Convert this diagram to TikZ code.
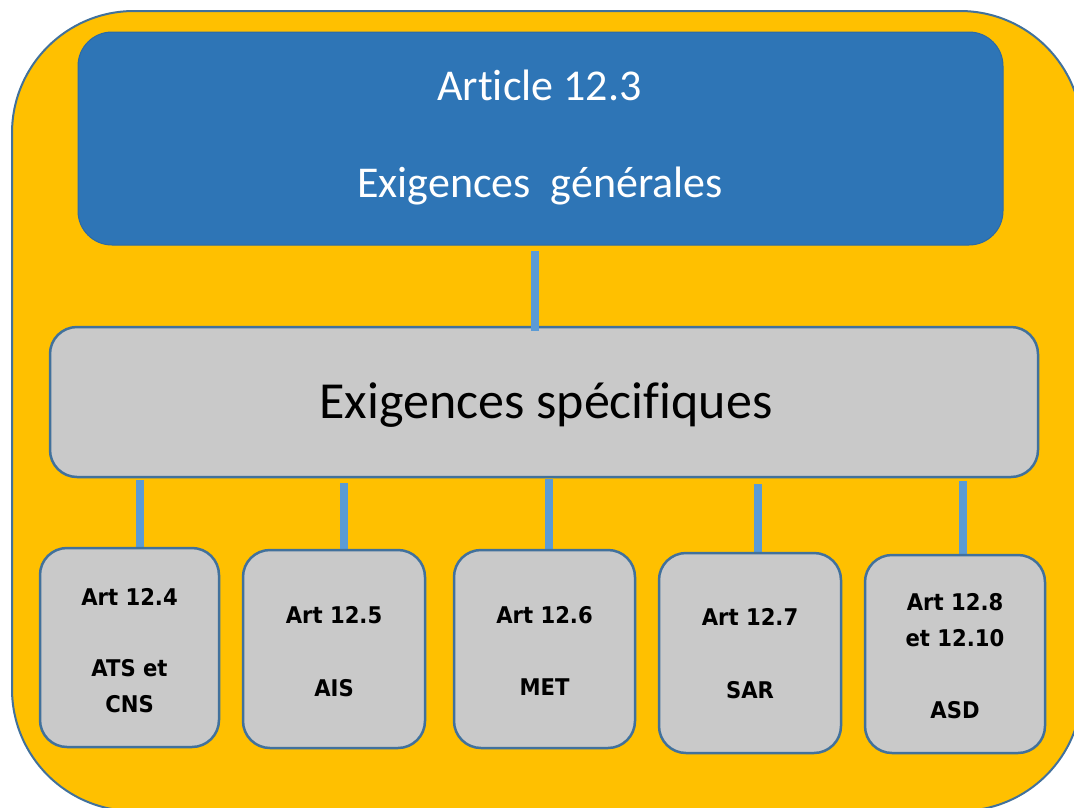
\documentclass[tikz,border=0pt]{standalone}
\usepackage{fontspec}
\setmainfont[Ligatures=NoCommon]{Carlito}
\newfontfamily\smallfont[FakeStretch=0.92]{DejaVu Sans}
\definecolor{gold}{HTML}{FFC000}
\definecolor{outerline}{HTML}{41719C}
\definecolor{bluefill}{HTML}{2E75B6}
\definecolor{blueline}{HTML}{2C6AA5}
\definecolor{boxgray}{HTML}{C9C9C9}
\definecolor{boxline}{HTML}{41719C}
\definecolor{connblue}{HTML}{5B9BD5}
\begin{document}
\begin{tikzpicture}[x=1pt,y=-1pt,
  graybox/.style={draw=boxline, line width=2.5pt, fill=boxgray, rounded corners=27pt, inner sep=0pt},
  bluebox/.style={draw=blueline, line width=1pt, fill=bluefill, rounded corners=34pt, inner sep=0pt},
  framebox/.style={draw=outerline, line width=2pt, fill=gold, rounded corners=122pt, inner sep=0pt},
  conn/.style={draw=connblue, line width=8pt},
  titletxt/.style={font=\fontsize{44}{50}\selectfont, text=white, anchor=base, inner sep=0pt},
  midtxt/.style={font=\fontsize{52}{58}\selectfont, text=black, anchor=base, inner sep=0pt},
  smalltxt/.style={font=\smallfont\bfseries\fontsize{23}{28}\selectfont, text=black, anchor=base, inner sep=0pt}]
\useasboundingbox (0,0) rectangle (1074,807);
\fill[white] (0,0) rectangle (1074,807);
% outer frame
\node[framebox, minimum width=1070pt, minimum height=800pt] (frame) at (547,411) {};
% boxes
\node[bluebox, minimum width=925pt, minimum height=213pt] (blue) at (540.5,138.5) {};
\node[graybox, minimum width=988pt, minimum height=150pt] (gray) at (544,402) {};
% bottom connectors (behind small boxes)
\coordinate (c1) at (140,0);
\coordinate (c2) at (344,0);
\coordinate (c3) at (549,0);
\coordinate (c4) at (758,0);
\coordinate (c5) at (963,0);
\draw[conn] ([yshift=-2pt]c1 |- gray.south) -- ([yshift=-75pt]c1 |- gray.south);
\draw[conn] ([yshift=-5pt]c2 |- gray.south) -- ([yshift=-78pt]c2 |- gray.south);
\draw[conn] ([yshift=-1pt]c3 |- gray.south) -- ([yshift=-75pt]c3 |- gray.south);
\draw[conn] ([yshift=-6pt]c4 |- gray.south) -- ([yshift=-80pt]c4 |- gray.south);
\draw[conn] ([yshift=-3pt]c5 |- gray.south) -- ([yshift=-80pt]c5 |- gray.south);
% small boxes
\node[graybox, minimum width=179pt, minimum height=199pt] (b1) at (129.5,647.5) {};
\node[graybox, minimum width=182pt, minimum height=198pt] (b2) at (334,649) {};
\node[graybox, minimum width=181pt, minimum height=198pt] (b3) at (544.5,649) {};
\node[graybox, minimum width=182pt, minimum height=200pt] (b4) at (750,653) {};
\node[graybox, minimum width=180pt, minimum height=198pt] (b5) at (955,654) {};
% top connector
\coordinate (c0) at (535,0);
\draw[conn] ([yshift=-5pt]c0 |- blue.south) -- ([yshift=-5pt]c0 |- gray.north);
% texts
\node[titletxt] (t0a) at (539.5,100) {Article 12.3};
\node[titletxt] (t0b) at (540,197) {Exigences~~générales};
\node[midtxt] (tm) at (546,418) {Exigences spécifiques};
\node[smalltxt] (t1a) at (129.5,605) {Art 12.4};
\node[smalltxt] (t1b) at (129.5,676) {ATS et};
\node[smalltxt] (t1c) at (129.5,712) {CNS};
\node[smalltxt] (t2a) at (334,623) {Art 12.5};
\node[smalltxt] (t2b) at (334,696) {AIS};
\node[smalltxt] (t3a) at (544.5,623) {Art 12.6};
\node[smalltxt] (t3b) at (544.5,695) {MET};
\node[smalltxt] (t4a) at (750,625) {Art 12.7};
\node[smalltxt] (t4b) at (750,698) {SAR};
\node[smalltxt] (t5a) at (955,610) {Art 12.8};
\node[smalltxt] (t5b) at (955,646) {et 12.10};
\node[smalltxt] (t5c) at (955,718) {ASD};
\end{tikzpicture}
\end{document}
